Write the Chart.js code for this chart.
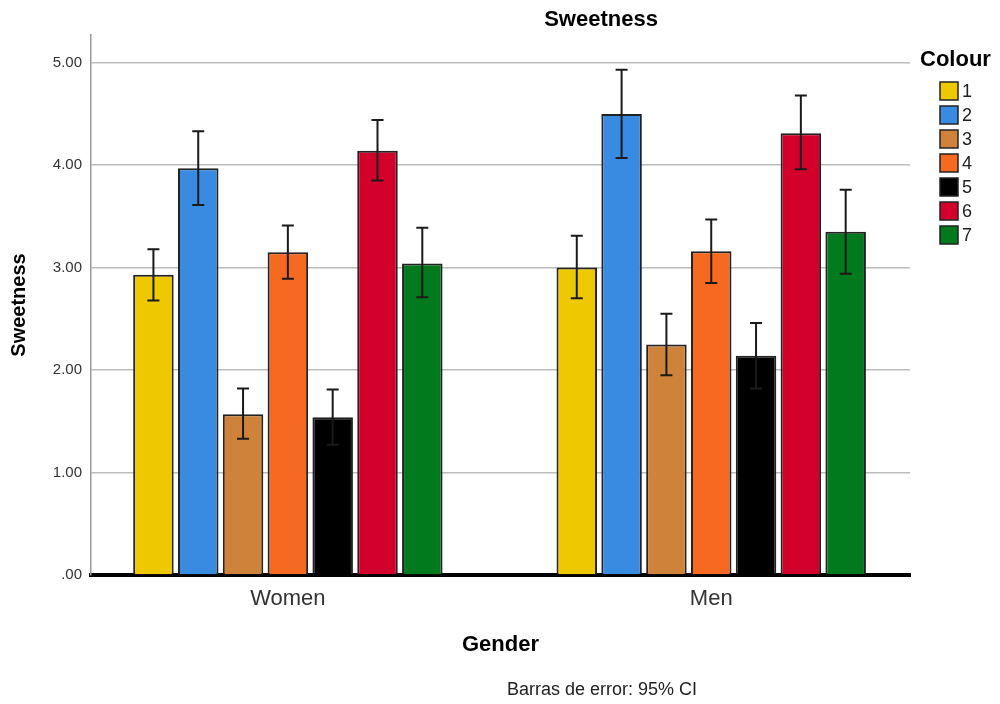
<!DOCTYPE html>
<html>
<head>
<meta charset="utf-8">
<script src="https://cdn.jsdelivr.net/npm/chart.js@4.4.1/dist/chart.umd.min.js"></script>
<style>
  body { margin: 0; background: #fff; }
  #wrap { width: 1000px; height: 704px; }
</style>
</head>
<body>
<div id="wrap"><canvas id="chart" width="1000" height="704"></canvas></div>
<script>
const genders = ['Women', 'Men'];
const colours = ['1', '2', '3', '4', '5', '6', '7'];
const barColours = ['#eec800', '#388be0', '#ce823a', '#f66921', '#000000', '#d2002a', '#007a1d'];

// mean sweetness, per colour
const meanWomen = [2.93, 3.97, 1.57, 3.15, 1.54, 4.14, 3.04];
const meanMen   = [3.00, 4.50, 2.25, 3.16, 2.14, 4.31, 3.35];

// 95% CI bounds
const lowWomen  = [2.68, 3.61, 1.33, 2.89, 1.27, 3.85, 2.71];
const highWomen = [3.18, 4.33, 1.82, 3.41, 1.81, 4.44, 3.39];
const lowMen    = [2.70, 4.07, 1.95, 2.85, 1.82, 3.96, 2.94];
const highMen   = [3.31, 4.93, 2.55, 3.47, 2.46, 4.68, 3.76];

const yTicks = [0, 1, 2, 3, 4, 5];

const FONT = "'Liberation Sans', Arial, sans-serif";

const datasets = colours.map((c, i) => ({
  label: c,
  data: [
    { x: 0, y: meanWomen[i] },
    { x: 1, y: meanMen[i] }
  ],
  errLow: [lowWomen[i], lowMen[i]],
  errHigh: [highWomen[i], highMen[i]],
  backgroundColor: barColours[i],
  borderColor: '#222',
  borderWidth: 2,
  categoryPercentage: 0.741,
  barPercentage: 0.904
}));

// error bars drawn from the y scale
const errorBars = {
  id: 'errorBars',
  afterDatasetsDraw(chart) {
    const ctx = chart.ctx;
    const y = chart.scales.y;
    ctx.save();
    ctx.strokeStyle = '#1a1a1a';
    ctx.lineWidth = 2;
    chart.data.datasets.forEach((ds, i) => {
      const meta = chart.getDatasetMeta(i);
      meta.data.forEach((bar, j) => {
        const lo = y.getPixelForValue(ds.errLow[j]);
        const hi = y.getPixelForValue(ds.errHigh[j]);
        const cap = 6;
        ctx.beginPath();
        ctx.moveTo(bar.x, lo); ctx.lineTo(bar.x, hi);
        ctx.moveTo(bar.x - cap, hi); ctx.lineTo(bar.x + cap, hi);
        ctx.moveTo(bar.x - cap, lo); ctx.lineTo(bar.x + cap, lo);
        ctx.stroke();
      });
    });
    ctx.restore();
  }
};

// title, legend and footnote
const extraText = {
  id: 'extraText',
  afterDraw(chart) {
    const ctx = chart.ctx;
    ctx.save();
    ctx.fillStyle = '#000';
    ctx.textBaseline = 'middle';
    ctx.textAlign = 'center';
    ctx.font = 'bold 22px ' + FONT;
    ctx.fillText('Sweetness', 601, 20);

    ctx.font = '18px ' + FONT;
    ctx.fillStyle = '#222';
    ctx.fillText('Barras de error: 95% CI', 602, 690);

    ctx.textAlign = 'left';
    ctx.fillStyle = '#000';
    ctx.font = 'bold 22px ' + FONT;
    ctx.fillText('Colour', 920, 60);

    ctx.font = '18px ' + FONT;
    chart.data.datasets.forEach((ds, i) => {
      const top = 82 + i * 24;
      ctx.fillStyle = ds.backgroundColor;
      ctx.fillRect(940, top, 18, 18);
      ctx.strokeStyle = '#222';
      ctx.lineWidth = 1.5;
      ctx.strokeRect(940, top, 18, 18);
      ctx.fillStyle = '#222';
      ctx.fillText(ds.label, 962, top + 10);
    });
    ctx.restore();
  }
};

new Chart(document.getElementById('chart'), {
  type: 'bar',
  data: { datasets: datasets },
  options: {
    responsive: false,
    animation: false,
    layout: { padding: { top: 35, right: 90, left: 0, bottom: 0 } },
    plugins: {
      legend: { display: false },
      tooltip: { enabled: false }
    },
    scales: {
      x: {
        type: 'linear',
        offset: false,
        bounds: 'data',
        min: -0.465,
        max: 1.4695,
        z: 1,
        afterBuildTicks: (scale) => {
          scale.ticks = genders.map((g, i) => ({ value: i }));
        },
        afterFit: (scale) => { scale.height = 129; },
        grid: { display: false, drawTicks: false, offset: false },
        border: { display: true, color: '#000', width: 4 },
        ticks: {
          padding: 11,
          color: '#333',
          font: { family: FONT, size: 22 },
          callback: (v) => genders[v]
        },
        title: {
          display: true,
          text: 'Gender',
          color: '#000',
          font: { family: FONT, size: 22, weight: 'bold' },
          padding: { top: 0, bottom: 46 }
        }
      },
      y: {
        min: 0,
        max: 5.27,
        afterBuildTicks: (scale) => {
          scale.ticks = yTicks.map(v => ({ value: v }));
        },
        afterFit: (scale) => { scale.width = 91; },
        grid: { color: '#bdbdbd', lineWidth: 1.5, drawTicks: false },
        border: { display: true, color: '#999', width: 1.5 },
        ticks: {
          padding: 9,
          color: '#333',
          font: { family: FONT, size: 15 },
          callback: (v) => v === 0 ? '.00' : v.toFixed(2)
        },
        title: {
          display: true,
          text: 'Sweetness',
          color: '#000',
          font: { family: FONT, size: 20, weight: 'bold' },
          padding: { top: 7, bottom: 0 }
        }
      }
    }
  },
  plugins: [errorBars, extraText]
});
</script>
</body>
</html>
